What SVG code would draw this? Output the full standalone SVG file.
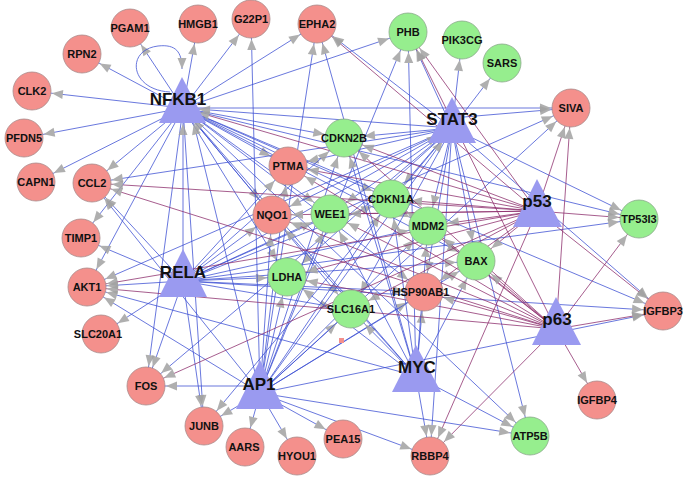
<svg xmlns="http://www.w3.org/2000/svg" width="685" height="479" viewBox="0 0 685 479">
<style>
.b{stroke:#3c4fd4;stroke-width:0.9;fill:none;opacity:0.85;marker-end:url(#mc)}
.bt{stroke:#3c4fd4;stroke-width:0.9;fill:none;opacity:0.85;marker-end:url(#mt)}
.p{stroke:#8c2c6c;stroke-width:0.9;fill:none;opacity:0.85;marker-end:url(#mc)}
.pt{stroke:#8c2c6c;stroke-width:0.9;fill:none;opacity:0.85;marker-end:url(#mt)}
.r{fill:#f4908c;stroke:#a88a8a;stroke-width:0.8}
.g{fill:#96ee8e;stroke:#8aa88a;stroke-width:0.8}
.t{fill:#9a9af0}
.l{font-family:"Liberation Sans",Arial,sans-serif;font-weight:bold;font-size:11px;text-anchor:middle;fill:#111}
.L{font-family:"Liberation Sans",Arial,sans-serif;font-weight:bold;font-size:17px;text-anchor:middle;fill:#111}
</style>
<defs>
<marker id="mc" markerUnits="userSpaceOnUse" markerWidth="12" markerHeight="9" refX="31" refY="4.5" orient="auto" overflow="visible"><path d="M0,0L11,4.5L0,9z" fill="#a2a2a2"/></marker>
<marker id="mt" markerUnits="userSpaceOnUse" markerWidth="12" markerHeight="9" refX="27" refY="4.5" orient="auto" overflow="visible"><path d="M0,0L11,4.5L0,9z" fill="#a2a2a2"/></marker>
<marker id="m0" markerUnits="userSpaceOnUse" markerWidth="12" markerHeight="9" refX="11" refY="4.5" orient="auto" overflow="visible"><path d="M0,0L11,4.5L0,9z" fill="#a2a2a2"/></marker>
</defs>
<rect width="685" height="479" fill="#fff"/>
<g id="connectors">
<!-- NFKB1 -->
<path class="b" d="M183 108L130 28"/><path class="b" d="M183 108L198 24"/><path class="b" d="M183 108L251 19"/><path class="b" d="M183 108L317 24"/><path class="b" d="M183 108L408 32"/><path class="b" d="M183 108L82 54"/><path class="b" d="M183 108L32 91"/><path class="b" d="M183 108L24 138"/><path class="b" d="M183 108L36 182"/><path class="b" d="M183 108L92 183"/><path class="b" d="M183 108L81 238"/><path class="b" d="M183 108L571 108"/><path class="b" d="M183 108L344 138"/><path class="b" d="M183 108L288 166"/><path class="b" d="M183 108L272 215"/><path class="b" d="M183 108L330 214"/><path class="b" d="M183 108L391 199"/><path class="b" d="M183 108L428 226"/><path class="b" d="M183 108L476 261"/><path class="b" d="M183 108L639 219"/><path class="b" d="M183 108L287 277"/><path class="b" d="M183 108L424 292"/><path class="b" d="M183 108L351 310"/><path class="b" d="M183 108L663 311"/><path class="b" d="M183 108L204 426"/><path class="b" d="M183 108L146 386"/><path class="b" d="M183 108L87 287"/><path class="b" d="M183 108L530 436"/>
<path d="M170,92 C130,90 125,50 158,46 C176,44 182,52 182,69" fill="none" stroke="#3c4fd4" stroke-width="0.9" opacity="0.85" marker-end="url(#m0)"/>
<!-- STAT3 -->
<path class="b" d="M452 128L408 32"/><path class="b" d="M452 128L462 40"/><path class="b" d="M452 128L502 63"/><path class="b" d="M452 118L571 108"/><path class="b" d="M452 128L317 24"/><path class="b" d="M452 128L344 138"/><path class="b" d="M452 128L288 166"/><path class="b" d="M452 128L92 183"/><path class="bt" d="M452 128L183 108"/><path class="b" d="M452 128L272 215"/><path class="b" d="M452 128L330 214"/><path class="b" d="M452 128L391 199"/><path class="b" d="M452 128L428 226"/><path class="b" d="M452 128L476 261"/><path class="b" d="M452 128L639 219"/><path class="b" d="M452 128L663 311"/><path class="b" d="M452 128L287 277"/><path class="b" d="M452 128L424 292"/><path class="b" d="M452 128L351 310"/><path class="b" d="M452 128L87 287"/><path class="b" d="M452 128L146 386"/><path class="b" d="M452 128L204 426"/><path class="b" d="M452 128L430 456"/><path class="b" d="M452 128L530 436"/>
<!-- RELA -->
<path class="bt" d="M183 281L183 108"/><path class="b" d="M183 281L92 183"/><path class="b" d="M183 281L87 287"/><path class="b" d="M183 281L101 334"/><path class="b" d="M183 281L146 386"/><path class="b" d="M183 281L204 426"/><path class="bt" d="M183 281L452 128"/><path class="b" d="M183 281L571 108"/><path class="b" d="M183 281L344 138"/><path class="b" d="M183 281L288 166"/><path class="b" d="M183 281L272 215"/><path class="b" d="M183 281L330 214"/><path class="b" d="M183 281L391 199"/><path class="b" d="M183 281L428 226"/><path class="b" d="M183 281L476 261"/><path class="b" d="M183 281L287 277"/><path class="b" d="M183 281L424 292"/><path class="b" d="M183 281L351 310"/><path class="b" d="M183 281L663 311"/><path class="b" d="M183 281L639 219"/><path class="b" d="M183 281L81 238"/>
<!-- AP1 -->
<path class="b" d="M260 386L146 386"/><path class="b" d="M260 393L204 426"/><path class="b" d="M260 393L245 447"/><path class="b" d="M260 393L297 456"/><path class="b" d="M260 393L343 439"/><path class="b" d="M260 393L430 456"/><path class="b" d="M260 393L530 436"/><path class="bt" d="M260 393L190 108"/><path class="b" d="M260 393L92 183"/><path class="b" d="M260 393L87 287"/><path class="b" d="M260 393L317 24"/><path class="b" d="M260 393L251 19"/><path class="b" d="M260 393L344 138"/><path class="b" d="M260 393L288 166"/><path class="b" d="M260 393L272 215"/><path class="b" d="M260 393L330 214"/><path class="b" d="M260 393L391 199"/><path class="b" d="M260 393L428 226"/><path class="b" d="M260 393L287 277"/><path class="b" d="M260 393L351 310"/><path class="b" d="M260 393L424 292"/><path class="bt" d="M260 393L452 128"/><path class="b" d="M260 393L571 108"/><path class="b" d="M260 393L408 32"/><path class="b" d="M260 393L476 261"/><path class="b" d="M260 393L663 311"/>
<!-- MYC -->
<path class="b" d="M416 376L430 456"/><path class="b" d="M416 376L530 436"/><path class="b" d="M416 376L351 310"/><path class="b" d="M416 376L424 292"/><path class="b" d="M416 376L287 277"/><path class="bt" d="M416 376L183 108"/><path class="b" d="M416 376L391 199"/><path class="b" d="M416 376L428 226"/><path class="b" d="M416 376L476 261"/><path class="b" d="M416 376L344 138"/><path class="b" d="M416 376L408 32"/><path class="b" d="M416 376L87 287"/><path class="b" d="M416 376L272 215"/><path class="b" d="M416 376L330 214"/><path class="b" d="M416 376L317 24"/>
<!-- p53 -->
<path class="p" d="M537 211L571 108"/><path class="p" d="M537 211L317 24"/><path class="p" d="M537 211L408 32"/><path class="p" d="M537 211L344 138"/><path class="p" d="M537 211L288 166"/><path class="p" d="M537 211L92 183"/><path class="pt" d="M537 211L183 108"/><path class="p" d="M537 211L272 215"/><path class="p" d="M537 211L330 214"/><path class="p" d="M537 211L391 199"/><path class="p" d="M537 211L428 226"/><path class="p" d="M537 211L476 261"/><path class="p" d="M537 211L639 219"/><path class="p" d="M537 211L663 311"/><path class="p" d="M537 211L287 277"/><path class="p" d="M537 211L424 292"/><path class="p" d="M537 211L87 287"/><path class="p" d="M537 211L351 310"/><path class="p" d="M537 211L430 456"/><path class="p" d="M537 211L146 386"/>
<!-- p63 -->
<path class="p" d="M556 329L663 311"/><path class="p" d="M556 329L597 400"/><path class="p" d="M556 329L639 219"/><path class="p" d="M556 329L571 108"/><path class="p" d="M556 329L408 32"/><path class="p" d="M556 329L391 199"/><path class="p" d="M556 329L428 226"/><path class="p" d="M556 329L476 261"/><path class="p" d="M556 329L424 292"/><path class="p" d="M556 329L288 166"/><path class="p" d="M556 329L92 183"/><path class="p" d="M556 329L87 287"/><path class="p" d="M556 329L272 215"/><path class="p" d="M556 329L330 214"/><path class="p" d="M556 329L287 277"/><path class="p" d="M556 329L430 456"/><path class="p" d="M556 329L344 138"/>
</g>
<g id="nodes">
<g id="PGAM1"><circle class="r" cx="130" cy="28" r="19"/><text class="l" x="130" y="32">PGAM1</text></g>
<g id="HMGB1"><circle class="r" cx="198" cy="24" r="19"/><text class="l" x="198" y="28">HMGB1</text></g>
<g id="G22P1"><circle class="r" cx="251" cy="19" r="19"/><text class="l" x="251" y="23">G22P1</text></g>
<g id="EPHA2"><circle class="r" cx="317" cy="24" r="19"/><text class="l" x="317" y="28">EPHA2</text></g>
<g id="PHB"><circle class="g" cx="408" cy="32" r="19"/><text class="l" x="408" y="36">PHB</text></g>
<g id="PIK3CG"><circle class="g" cx="462" cy="40" r="19"/><text class="l" x="462" y="44">PIK3CG</text></g>
<g id="SARS"><circle class="g" cx="502" cy="63" r="19"/><text class="l" x="502" y="67">SARS</text></g>
<g id="RPN2"><circle class="r" cx="82" cy="54" r="19"/><text class="l" x="82" y="58">RPN2</text></g>
<g id="CLK2"><circle class="r" cx="32" cy="91" r="19"/><text class="l" x="32" y="95">CLK2</text></g>
<g id="SIVA"><circle class="r" cx="571" cy="108" r="19"/><text class="l" x="571" y="112">SIVA</text></g>
<g id="PFDN5"><circle class="r" cx="24" cy="138" r="19"/><text class="l" x="24" y="142">PFDN5</text></g>
<g id="CAPN1"><circle class="r" cx="36" cy="182" r="19"/><text class="l" x="36" y="186">CAPN1</text></g>
<g id="CCL2"><circle class="r" cx="92" cy="183" r="19"/><text class="l" x="92" y="187">CCL2</text></g>
<g id="CDKN2B"><circle class="g" cx="344" cy="138" r="19"/><text class="l" x="344" y="142">CDKN2B</text></g>
<g id="PTMA"><circle class="r" cx="288" cy="166" r="19"/><text class="l" x="288" y="170">PTMA</text></g>
<g id="CDKN1A"><circle class="g" cx="391" cy="199" r="19"/><text class="l" x="391" y="203">CDKN1A</text></g>
<g id="NQO1"><circle class="r" cx="272" cy="215" r="19"/><text class="l" x="272" y="219">NQO1</text></g>
<g id="WEE1"><circle class="g" cx="330" cy="214" r="19"/><text class="l" x="330" y="218">WEE1</text></g>
<g id="MDM2"><circle class="g" cx="428" cy="226" r="19"/><text class="l" x="428" y="230">MDM2</text></g>
<g id="TIMP1"><circle class="r" cx="81" cy="238" r="19"/><text class="l" x="81" y="242">TIMP1</text></g>
<g id="TP53I3"><circle class="g" cx="639" cy="219" r="19"/><text class="l" x="639" y="223">TP53I3</text></g>
<g id="AKT1"><circle class="r" cx="87" cy="287" r="19"/><text class="l" x="87" y="291">AKT1</text></g>
<g id="BAX"><circle class="g" cx="476" cy="261" r="19"/><text class="l" x="476" y="265">BAX</text></g>
<g id="LDHA"><circle class="g" cx="287" cy="277" r="19"/><text class="l" x="287" y="281">LDHA</text></g>
<g id="HSP90AB1"><circle class="r" cx="424" cy="292" r="19"/><text class="l" x="421" y="296">HSP90AB1</text></g>
<g id="SLC16A1"><circle class="g" cx="351" cy="309" r="19"/><text class="l" x="351" y="313">SLC16A1</text></g>
<g id="SLC20A1"><circle class="r" cx="101" cy="334" r="19"/><text class="l" x="98" y="338">SLC20A1</text></g>
<g id="IGFBP3"><circle class="r" cx="663" cy="311" r="19"/><text class="l" x="663" y="315">IGFBP3</text></g>
<g id="FOS"><circle class="r" cx="146" cy="386" r="19"/><text class="l" x="146" y="390">FOS</text></g>
<g id="JUNB"><circle class="r" cx="204" cy="426" r="19"/><text class="l" x="204" y="430">JUNB</text></g>
<g id="AARS"><circle class="r" cx="245" cy="447" r="19"/><text class="l" x="244" y="451">AARS</text></g>
<g id="HYOU1"><circle class="r" cx="297" cy="456" r="19"/><text class="l" x="297" y="460">HYOU1</text></g>
<g id="PEA15"><circle class="r" cx="343" cy="439" r="19"/><text class="l" x="343" y="443">PEA15</text></g>
<g id="RBBP4"><circle class="r" cx="430" cy="456" r="19"/><text class="l" x="430" y="460">RBBP4</text></g>
<g id="ATP5B"><circle class="g" cx="530" cy="436" r="19"/><text class="l" x="530" y="440">ATP5B</text></g>
<g id="IGFBP4"><circle class="r" cx="597" cy="400" r="19"/><text class="l" x="597" y="404">IGFBP4</text></g>
<g id="dot"><rect x="339" y="338" width="5" height="5" fill="#f4908c"/></g>
<g id="NFKB1"><polygon class="t" points="182,77 206,123 159,123"/><text class="L" x="178" y="105">NFKB1</text></g>
<g id="STAT3"><polygon class="t" points="452,97 476,143 428,143"/><text class="L" x="452" y="125">STAT3</text></g>
<g id="p53"><polygon class="t" points="537,179 562,227 513,227"/><text class="L" x="537" y="207">p53</text></g>
<g id="RELA"><polygon class="t" points="183,249 207,297 159,297"/><text class="L" x="183" y="278">RELA</text></g>
<g id="p63"><polygon class="t" points="556,297 581,345 532,345"/><text class="L" x="557" y="325">p63</text></g>
<g id="MYC"><polygon class="t" points="416,345 441,392 392,392"/><text class="L" x="417" y="373">MYC</text></g>
<g id="AP1"><polygon class="t" points="260,360 284,409 236,409"/><text class="L" x="259" y="390">AP1</text></g>
</g>
</svg>
